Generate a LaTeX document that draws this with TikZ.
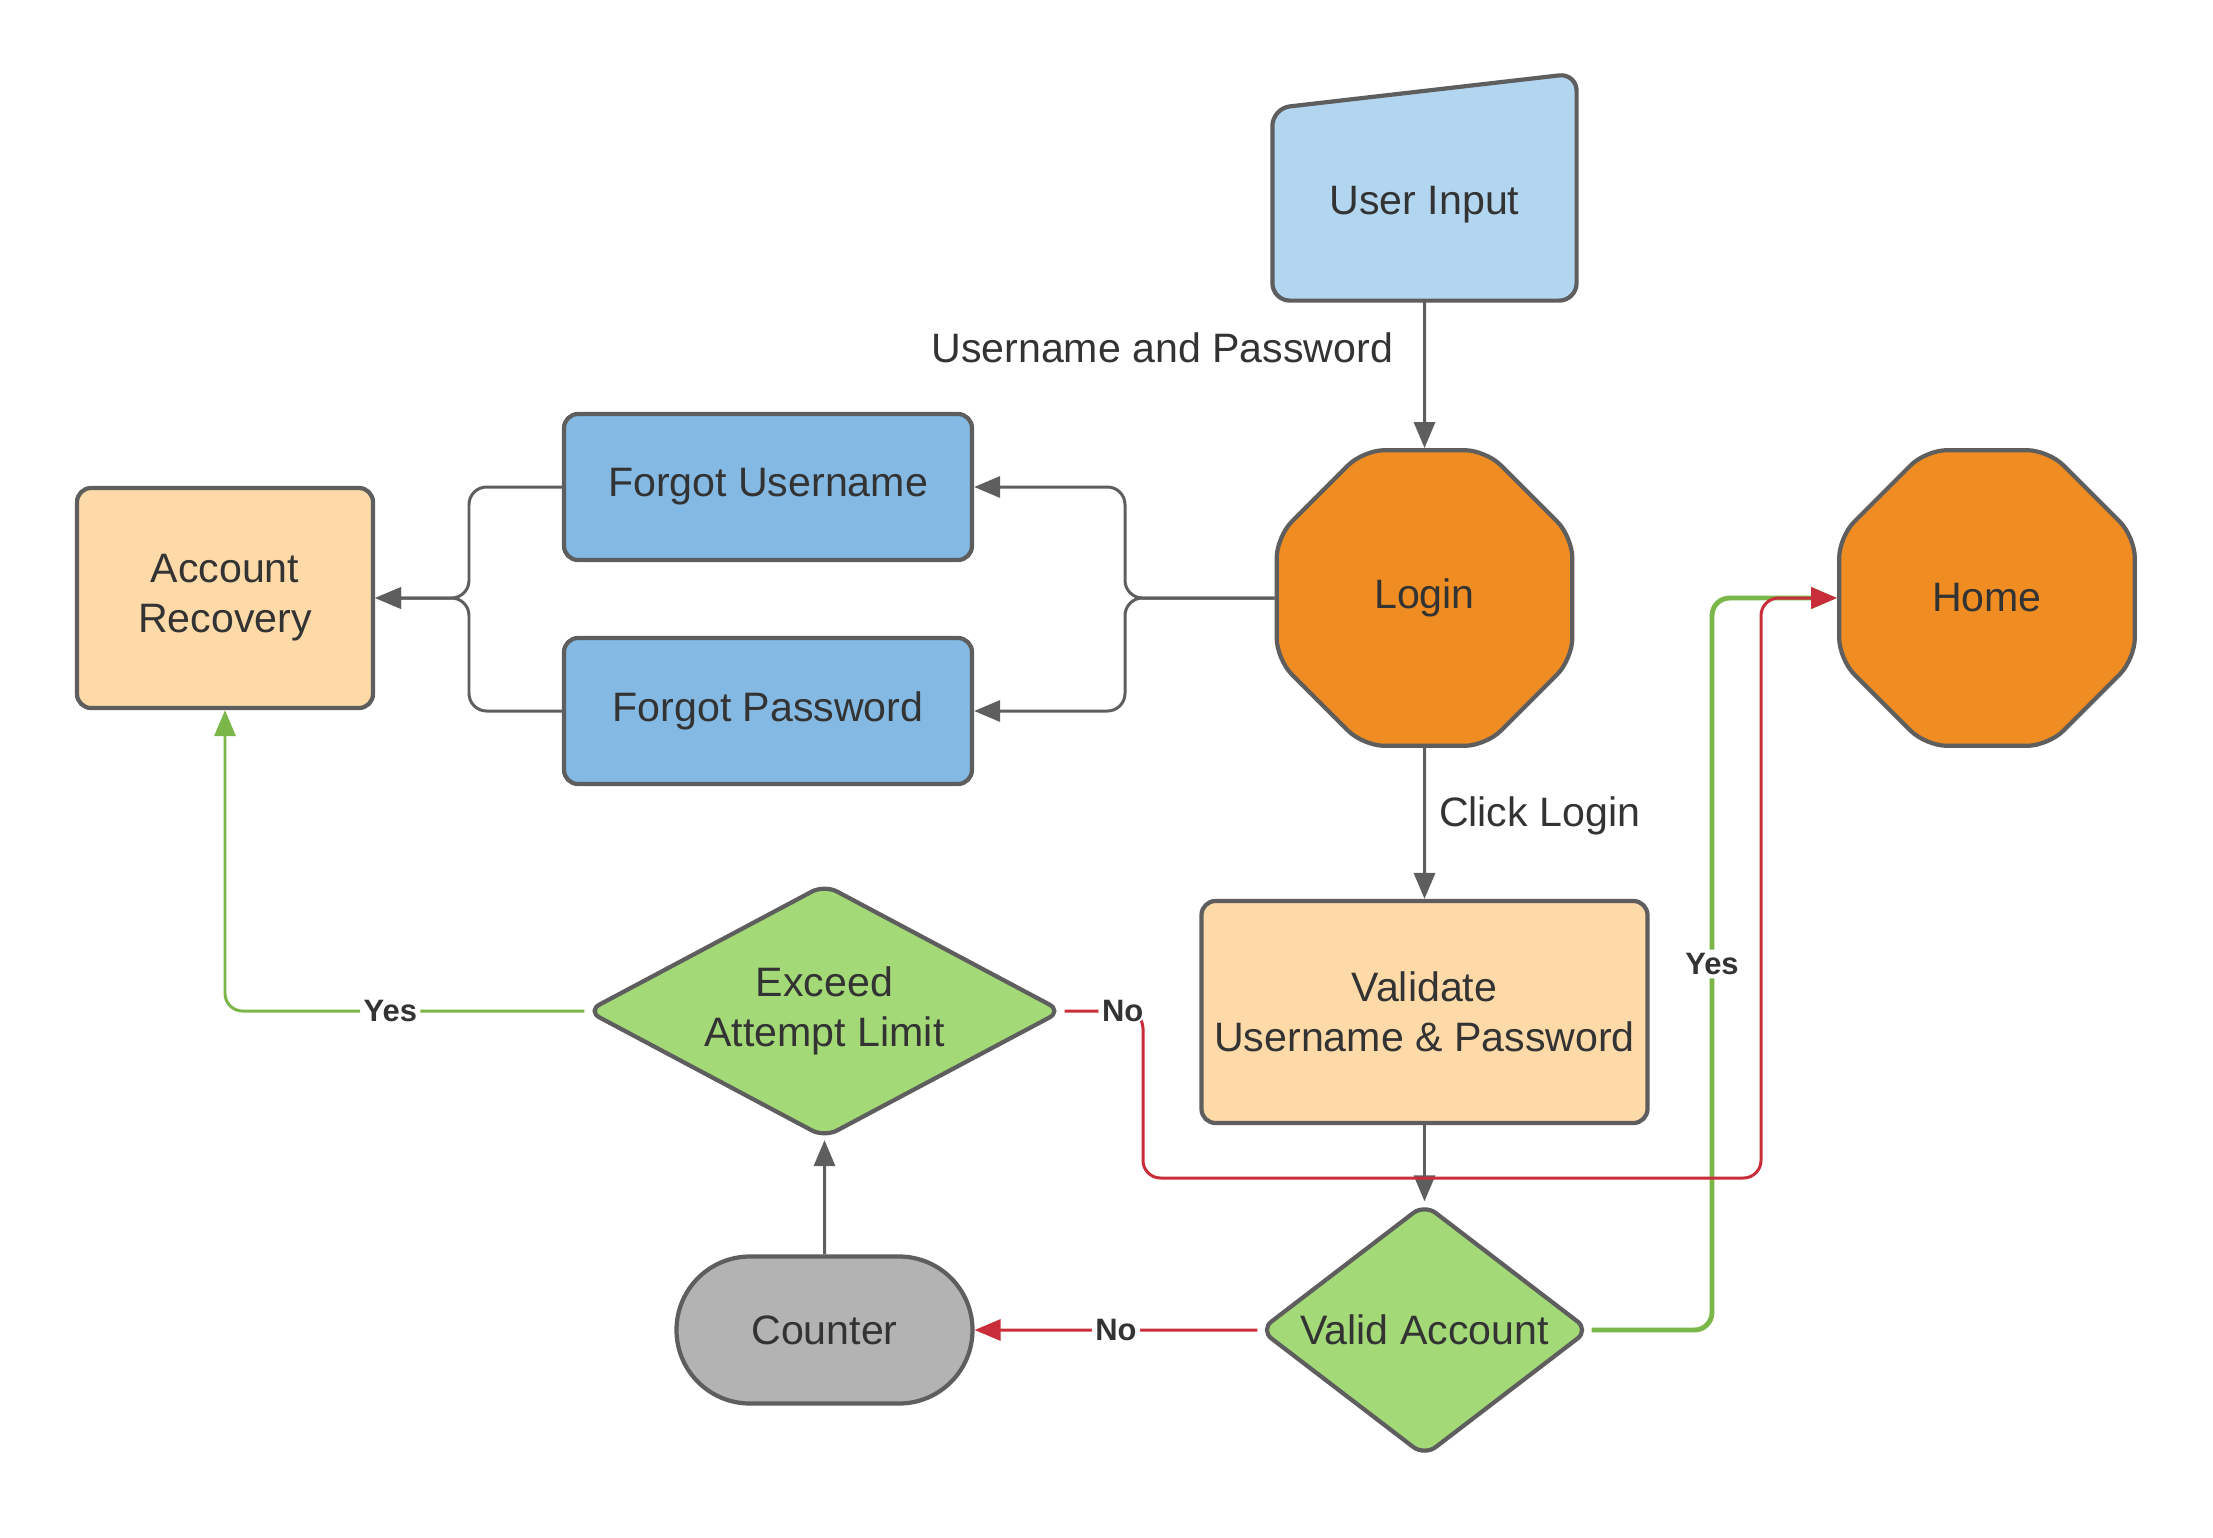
\documentclass[tikz,border=0pt]{standalone}
\usepackage{fontspec}
\setmainfont{Liberation Sans}
\usetikzlibrary{shapes.geometric,shapes.misc,arrows.meta,backgrounds,positioning}

\definecolor{edge}{HTML}{5E5E5E}
\definecolor{ink}{HTML}{333333}
\definecolor{inblue}{HTML}{B2D6EF}
\definecolor{boxblue}{HTML}{83B9E3}
\definecolor{peach}{HTML}{FEDAA8}
\definecolor{orng}{HTML}{EF8D22}
\definecolor{lgreen}{HTML}{A3D977}
\definecolor{lgray}{HTML}{B3B3B3}
\definecolor{yesgreen}{HTML}{7AB648}
\definecolor{nored}{HTML}{C92D39}

\tikzset{
  txt/.style={text=ink, font=\fontsize{11.7}{14.2}\selectfont, inner sep=0pt},
  shp/.style={txt, draw=edge, line width=1.2pt, align=center},
  box/.style={shp, rectangle, rounded corners=4pt},
  octo/.style={shp, fill=orng, regular polygon, regular polygon sides=8, minimum size=3.2cm, rounded corners=6pt},
  dec/.style={shp, fill=lgreen, diamond, rounded corners=4pt},
  flow/.style={draw=edge, line width=0.85pt, rounded corners=5pt, -{Triangle[length=7.4pt,width=6pt]}},
  yesline/.style={flow, draw=yesgreen},
  noline/.style={flow, draw=nored},
  lbl/.style={fill=white, text=ink, font=\bfseries\fontsize{8.8}{10}\selectfont, inner sep=1pt}
}

\begin{document}
\begin{tikzpicture}
    \useasboundingbox (0,0) rectangle (22.13,-15.38);

    \node[shp, draw=none, minimum width=3.0cm, minimum height=1.88cm] (Input) at (14.245,-2.045) {User Input};
    \begin{scope}[on background layer]
      \draw[draw=edge, line width=1.2pt, fill=inblue, rounded corners=5pt] (Input.south west) -- (Input.south east) -- ([yshift=3.5mm]Input.north east) -- (Input.north west) -- cycle;
    \end{scope}

    \node[octo] (Login) at (14.245,-5.98) {Login};
    \node[octo] (Home) at (19.87,-5.98) {Home};
    \node[box, fill=boxblue, minimum width=4.08cm, minimum height=1.46cm] (ForgotUser) at (7.68,-4.87) {Forgot Username};
    \node[box, fill=boxblue, minimum width=4.08cm, minimum height=1.46cm] (ForgotPass) at (7.68,-7.11) {Forgot Password};
    \node[box, fill=peach, minimum width=2.96cm, minimum height=2.2cm] (Recovery) at (2.25,-5.98) {Account\\Recovery};
    \node[box, fill=peach, minimum width=4.46cm, minimum height=2.22cm] (Validate) at (14.245,-10.12) {Validate\\Username \& Password};
    \node[dec, aspect=1.87, minimum width=4.76cm, minimum height=2.54cm] (Exceed) at (8.245,-10.11) {Exceed\\Attempt Limit};
    \node[dec, aspect=1.3, minimum width=3.3cm, minimum height=2.53cm] (Valid) at (14.245,-13.3) {Valid Account};
    \node[shp, rounded rectangle, fill=lgray, minimum width=2.96cm, minimum height=1.47cm] (Counter) at (8.245,-13.3) {Counter};

    \coordinate (SplitR) at (11.25,-5.98);
    \coordinate (SplitL) at (4.69,-5.98);
    \coordinate (YesX) at (17.12,-5.98);
    \coordinate (NoX) at (11.43,-11.78);
    \coordinate (RedX) at (17.61,-5.98);

    \draw[flow] (Input) -- node[txt, pos=0.32, left=3mm] {Username and Password} (Login);
    \draw[flow] (Login) -- node[txt, pos=0.45, right=1.3mm] {Click Login} (Validate);
    \draw[flow] (Validate) -- (Valid);

    \draw[flow] (Login.west) -- (SplitR) |- (ForgotUser.east);
    \draw[flow] (Login.west) -- (SplitR) |- (ForgotPass.east);
    \draw[flow] (ForgotUser.west) -| (SplitL) -- (Recovery.east);
    \draw[flow] (ForgotPass.west) -| (SplitL) -- (Recovery.east);

    \draw[noline] (Valid) -- node[lbl] {No} (Counter);
    \draw[flow] (Counter) -- (Exceed);
    \draw[yesline] (Exceed.west) -| node[lbl, pos=0.27] {Yes} (Recovery.south);

    \draw[yesline, line width=1.4pt] (Valid.east) -| node[lbl, pos=0.75] {Yes} (YesX) -- (Home.west);
    \draw[noline] (Exceed.east) -| node[lbl, pos=0.37] {No} (NoX) -| (RedX) -- (Home.west);

\end{tikzpicture}
\end{document}
